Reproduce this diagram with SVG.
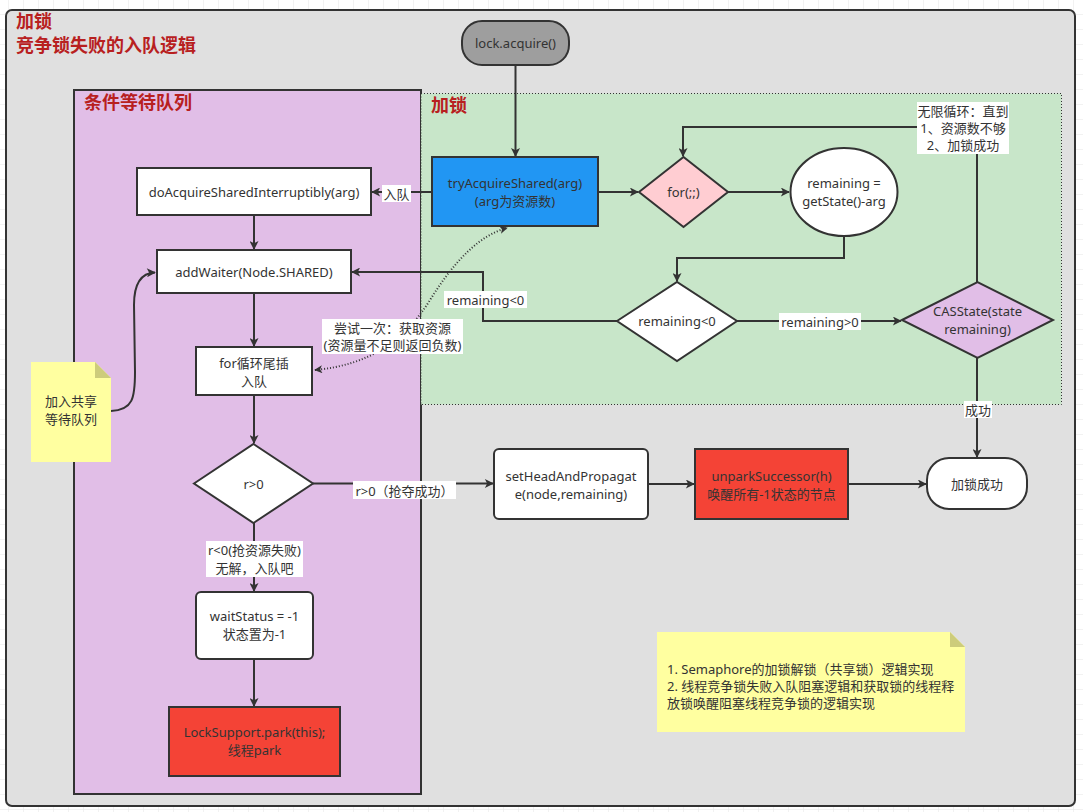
<svg xmlns="http://www.w3.org/2000/svg" width="1083" height="812" viewBox="0 0 1083 812">
<defs>
<pattern id="grid" x="8" y="14" width="15" height="15" patternUnits="userSpaceOnUse">
<path d="M15 0H0V15" fill="none" stroke="#e6e6e6" stroke-width="1"/>
</pattern>
<marker id="arr" viewBox="0 0 10 10" refX="9" refY="5" markerWidth="10" markerHeight="9" markerUnits="userSpaceOnUse" orient="auto">
<path d="M0 0L10 5L0 10L2.5 5Z" fill="#333"/>
</marker>
<marker id="arrs" viewBox="0 0 10 10" refX="9" refY="5" markerWidth="9" markerHeight="8" markerUnits="userSpaceOnUse" orient="auto-start-reverse">
<path d="M0 0L10 5L0 10L2.5 5Z" fill="#333"/>
</marker>
</defs>
<style>
text{font-family:"Noto Sans","Noto Sans CJK SC",sans-serif;font-size:13px;fill:#333;text-anchor:middle;dominant-baseline:central}
.title{font-family:"Noto Sans CJK SC",sans-serif;font-size:18px;font-weight:bold;fill:#b8201f;text-anchor:start;dominant-baseline:alphabetic}
.box{stroke:#333;stroke-width:2}
.w{fill:#fff}
.red{fill:#f44336}
.conn path{fill:none;stroke:#333;stroke-width:2}
.lbl{fill:#fff}
.note{fill:#ffffa0}
.fold{fill:#cdcc7b}
</style>
<rect width="1083" height="812" fill="#fff"/>
<rect width="1083" height="812" fill="url(#grid)"/>
<g id="outer">
<rect x="6" y="10" width="1069" height="796" rx="6" fill="#e0e0e0" stroke="#333" stroke-width="2"/>
<text class="title" x="16" y="28">加锁</text>
<text class="title" x="16" y="52">竞争锁失败的入队逻辑</text>
</g>
<g id="queue">
<rect x="74" y="90" width="347" height="704" fill="#e1bee7" stroke="#333" stroke-width="2"/>
<text class="title" x="84" y="109">条件等待队列</text>
</g>
<g id="lock-area">
<rect x="421" y="93.5" width="640.5" height="311" fill="#c8e6c9" stroke="#333" stroke-width="1" stroke-dasharray="1,2"/>
<text class="title" x="431" y="112">加锁</text>
</g>
<g class="conn" id="connectors">
<path d="M515.5 65V156" marker-end="url(#arr)"/>
<path d="M598 192H638" marker-end="url(#arr)"/>
<path d="M728 192H789" marker-end="url(#arr)"/>
<path d="M844 236V258H677V281" marker-end="url(#arr)"/>
<path d="M737 321H901" marker-end="url(#arr)"/>
<path d="M977 282V127H683V156" marker-end="url(#arr)"/>
<path d="M617 321H483V272H352" marker-end="url(#arr)"/>
<path d="M432 192H372" marker-end="url(#arr)"/>
<path d="M254 215V249" marker-end="url(#arr)"/>
<path d="M254 293V346" marker-end="url(#arr)"/>
<path d="M254 395V443" marker-end="url(#arr)"/>
<path d="M254 523V591" marker-end="url(#arr)"/>
<path d="M254 659V706" marker-end="url(#arr)"/>
<path d="M313 483.5H493" marker-end="url(#arr)"/>
<path d="M648 484H694" marker-end="url(#arr)"/>
<path d="M848 484H926" marker-end="url(#arr)"/>
<path d="M977 358V457" marker-end="url(#arr)"/>
<path d="M111 411C133 410 135 398 135 372L134 305C134 285 140 273 155 272.5" marker-end="url(#arr)"/>
<path d="M315 370C370 365 405 340 430 300C455 260 480 235 507 228" stroke-width="1" stroke-dasharray="1,2" marker-start="url(#arrs)" marker-end="url(#arrs)"/>
<rect class="lbl" x="382" y="185" width="29" height="17"/>
<text x="396.5" y="193.5">入队</text>
<rect class="lbl" x="444" y="291" width="83" height="17"/>
<text x="485.5" y="299.5">remaining&lt;0</text>
<rect class="lbl" x="779" y="313" width="82" height="17"/>
<text x="820" y="321.5">remaining&gt;0</text>
<rect class="lbl" x="964" y="401" width="28" height="17"/>
<text x="978" y="409.5">成功</text>
<rect class="lbl" x="206" y="541" width="97" height="36"/>
<text x="254.5" y="550">r&lt;0(抢资源失败)</text>
<text x="254.5" y="568">无解，入队吧</text>
<rect class="lbl" x="353" y="481" width="103" height="18"/>
<text x="404.5" y="490.5">r&gt;0（抢夺成功）</text>
<rect class="lbl" x="322" y="319" width="141" height="35"/>
<text x="392.5" y="328">尝试一次：获取资源</text>
<text x="392.5" y="345">(资源量不足则返回负数)</text>
<rect class="lbl" x="917" y="102" width="92" height="52"/>
<text x="963" y="111">无限循环：直到</text>
<text x="963" y="128">1、资源数不够</text>
<text x="963" y="145">2、加锁成功</text>
</g>
<g id="lock-acquire">
<rect class="box" x="462" y="21" width="107" height="44" rx="20" fill="#9e9e9e"/>
<text x="515.5" y="43">lock.acquire()</text>
</g>
<g id="tryAcquireShared">
<rect class="box" x="432" y="157" width="166" height="69" fill="#2196f3"/>
<text x="515" y="183">tryAcquireShared(arg)</text>
<text x="515" y="201">(arg为资源数)</text>
</g>
<g id="for-loop">
<polygon class="box" points="639,192 683.5,157 728,192 683.5,227" fill="#ffcdd2"/>
<text x="683.5" y="192">for(;;)</text>
</g>
<g id="remaining-calc">
<ellipse class="box w" cx="844" cy="192" rx="53.5" ry="44"/>
<text x="844" y="183">remaining =</text>
<text x="844" y="201">getState()-arg</text>
</g>
<g id="remaining-check">
<polygon class="box w" points="617,321 677,282 737,321 677,361"/>
<text x="677" y="321">remaining&lt;0</text>
</g>
<g id="casstate">
<polygon class="box" points="902,320 977.5,282 1053,320 977.5,358" fill="#e1bee7"/>
<text x="977.5" y="311">CASState(state</text>
<text x="977.5" y="329">remaining)</text>
</g>
<g id="doAcquire">
<rect class="box w" x="137" y="168" width="234" height="47"/>
<text x="254" y="192">doAcquireSharedInterruptibly(arg)</text>
</g>
<g id="addWaiter">
<rect class="box w" x="157" y="250" width="194" height="43"/>
<text x="254" y="272">addWaiter(Node.SHARED)</text>
</g>
<g id="for-insert">
<rect class="box w" x="196" y="347" width="116" height="48"/>
<text x="254" y="363">for循环尾插</text>
<text x="254" y="381">入队</text>
</g>
<g id="r-check">
<polygon class="box w" points="194,483.5 253.5,444 313,483.5 253.5,523"/>
<text x="253.5" y="484">r&gt;0</text>
</g>
<g id="waitStatus">
<rect class="box w" x="196" y="592" width="117" height="67" rx="5"/>
<text x="254.5" y="616">waitStatus = -1</text>
<text x="254.5" y="634">状态置为-1</text>
</g>
<g id="park">
<rect class="box red" x="169" y="707" width="171" height="69"/>
<text x="254.5" y="732">LockSupport.park(this);</text>
<text x="254.5" y="750">线程park</text>
</g>
<g id="setHead">
<rect class="box w" x="494" y="449" width="154" height="70" rx="5"/>
<text x="571" y="476">setHeadAndPropagat</text>
<text x="571" y="494">e(node,remaining)</text>
</g>
<g id="unpark">
<rect class="box red" x="695" y="449" width="153" height="70"/>
<text x="771.5" y="476">unparkSuccessor(h)</text>
<text x="771.5" y="494">唤醒所有-1状态的节点</text>
</g>
<g id="success">
<rect class="box w" x="927" y="458" width="100" height="51" rx="22"/>
<text x="977" y="484">加锁成功</text>
</g>
<g id="note-queue">
<path class="note" d="M31 362H95L111 378V462H31Z"/>
<path class="fold" d="M95 362V378H111Z"/>
<text x="71" y="401">加入共享</text>
<text x="71" y="419">等待队列</text>
</g>
<g id="note-desc">
<path class="note" d="M657 632H950L965 647V732H657Z"/>
<path class="fold" d="M950 632V647H965Z"/>
<text x="667" y="669" style="text-anchor:start">1. Semaphore的加锁解锁（共享锁）逻辑实现</text>
<text x="667" y="686" style="text-anchor:start">2. 线程竞争锁失败入队阻塞逻辑和获取锁的线程释</text>
<text x="667" y="703" style="text-anchor:start">放锁唤醒阻塞线程竞争锁的逻辑实现</text>
</g>
</svg>
